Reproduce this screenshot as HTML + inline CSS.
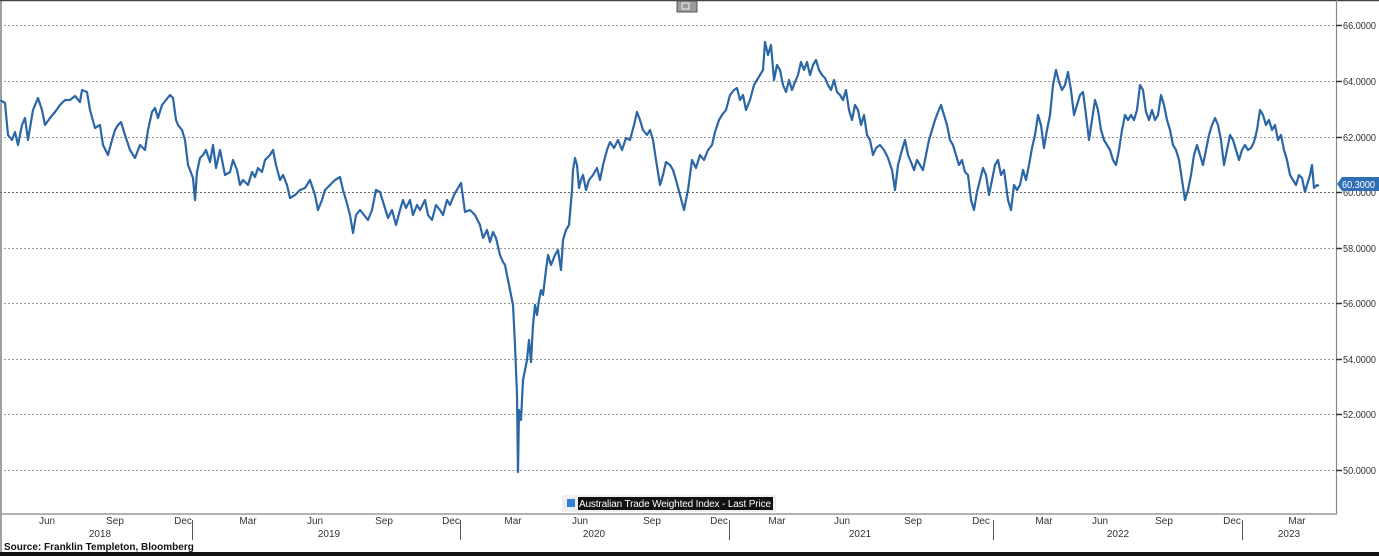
<!DOCTYPE html>
<html><head><meta charset="utf-8"><style>
body{margin:0;width:1379px;height:556px;background:#fff;overflow:hidden;font-family:"Liberation Sans",sans-serif;}
</style></head><body>
<svg width="1379" height="556" xmlns="http://www.w3.org/2000/svg" style="position:absolute;left:0;top:0">
<rect x="0" y="0" width="1379" height="556" fill="#fff"/>
<line x1="0" y1="0.5" x2="1379" y2="0.5" stroke="#444" stroke-width="1.5"/>
<line x1="1" y1="0" x2="1" y2="552" stroke="#444" stroke-width="1"/>
<rect x="677" y="1" width="20" height="11" fill="#9a9a9a" stroke="#555" stroke-width="1"/>
<rect x="682" y="3" width="7" height="6" fill="none" stroke="#eee" stroke-width="1"/>
<g stroke="#999" stroke-dasharray="2,2" stroke-width="1">
<line x1="0" y1="25.5" x2="1336" y2="25.5"/><line x1="0" y1="81.5" x2="1336" y2="81.5"/>
<line x1="0" y1="137.5" x2="1336" y2="137.5"/><line x1="0" y1="192.5" x2="1336" y2="192.5" stroke="#666"/>
<line x1="0" y1="248.5" x2="1336" y2="248.5"/><line x1="0" y1="303.5" x2="1336" y2="303.5"/>
<line x1="0" y1="359.5" x2="1336" y2="359.5"/><line x1="0" y1="414.5" x2="1336" y2="414.5"/>
<line x1="0" y1="470.5" x2="1336" y2="470.5"/>
</g>
<line x1="1336.5" y1="0" x2="1336.5" y2="514" stroke="#888" stroke-width="1.2"/>
<line x1="0" y1="514" x2="1337" y2="514" stroke="#999" stroke-width="1.5"/>
<g font-size="10" fill="#333">
<text x="1343" y="29" textLength="33" lengthAdjust="spacingAndGlyphs">66.0000</text><text x="1343" y="85" textLength="33" lengthAdjust="spacingAndGlyphs">64.0000</text><text x="1343" y="141" textLength="33" lengthAdjust="spacingAndGlyphs">62.0000</text>
<text x="1343" y="252" textLength="33" lengthAdjust="spacingAndGlyphs">58.0000</text><text x="1343" y="307" textLength="33" lengthAdjust="spacingAndGlyphs">56.0000</text><text x="1343" y="363" textLength="33" lengthAdjust="spacingAndGlyphs">54.0000</text>
<text x="1343" y="418" textLength="33" lengthAdjust="spacingAndGlyphs">52.0000</text><text x="1343" y="474" textLength="33" lengthAdjust="spacingAndGlyphs">50.0000</text>
<text x="1343" y="196" textLength="33" lengthAdjust="spacingAndGlyphs">60.0000</text>
</g>
<g stroke="#333" stroke-width="1.5">
<line x1="1336" y1="25.5" x2="1342" y2="25.5"/><line x1="1336" y1="81.5" x2="1342" y2="81.5"/>
<line x1="1336" y1="137.5" x2="1342" y2="137.5"/><line x1="1336" y1="192.5" x2="1342" y2="192.5"/>
<line x1="1336" y1="248.5" x2="1342" y2="248.5"/><line x1="1336" y1="303.5" x2="1342" y2="303.5"/>
<line x1="1336" y1="359.5" x2="1342" y2="359.5"/><line x1="1336" y1="414.5" x2="1342" y2="414.5"/>
<line x1="1336" y1="470.5" x2="1342" y2="470.5"/>
</g>
<polygon points="1337,184 1342,177 1379,177 1379,191 1342,191" fill="#2e6fb5"/>
<text x="1342" y="188" font-size="10" fill="#fff" textLength="33" lengthAdjust="spacingAndGlyphs">60.3000</text>
<polyline fill="none" stroke="#2b66a6" stroke-width="2.2" stroke-linejoin="round" points="0,100 5,103 8,135 12,140 15,132 18,145 22,125 25,118 28,140 33,110 38,98 42,110 45,125 50,118 55,112 60,105 65,100 70,100 75,96 80,102 82,90 87,92 90,110 95,128 100,125 103,145 108,155 112,140 115,130 118,125 121,122 125,135 130,150 135,158 140,145 145,150 148,130 152,112 155,108 158,118 162,105 166,100 170,95 173,98 176,120 178,125 182,130 185,140 188,165 190,170 193,178 195,200 197,172 200,158 203,155 206,150 210,162 213,145 216,168 220,150 225,175 230,172 233,160 237,170 240,185 243,180 248,185 252,172 255,177 258,168 262,172 265,160 270,155 273,150 276,165 280,180 283,175 287,185 290,198 295,195 300,190 305,188 310,180 315,195 318,210 322,200 325,190 330,185 335,180 340,177 343,190 346,200 350,215 353,233 356,215 360,210 364,215 368,220 372,210 376,190 380,192 384,205 388,218 392,210 396,225 400,210 403,200 406,208 410,200 413,215 417,205 420,210 425,200 428,215 432,220 436,205 440,210 443,215 447,200 450,205 454,195 458,188 461,183 465,212 470,210 475,215 480,225 483,238 487,230 490,242 493,232 496,238 500,255 503,262 505,265 508,280 511,295 513,305 515,345 517,395 518,472 519,410 521,420 523,380 525,370 527,360 529,340 531,362 533,325 535,305 537,315 539,300 541,290 543,295 546,270 548,255 551,265 555,255 558,250 561,270 563,240 566,230 569,225 572,190 573,170 575,158 577,165 579,188 581,180 583,175 586,190 589,180 593,175 597,168 600,180 603,165 607,150 610,142 614,148 618,140 622,150 626,138 630,140 634,125 637,112 640,120 643,130 647,135 650,130 653,140 656,160 660,185 663,175 666,162 670,165 673,170 676,180 680,195 684,210 688,190 692,160 696,168 700,155 704,160 708,150 712,145 715,132 719,120 722,115 726,110 730,95 734,90 737,88 740,100 743,95 746,110 750,100 754,85 757,80 760,75 763,70 765,42 768,55 771,45 774,80 777,65 780,70 783,85 786,92 789,80 792,90 795,82 798,75 801,62 804,70 807,62 810,75 813,65 816,60 819,70 822,75 825,78 828,85 831,90 834,80 837,92 840,95 843,100 846,90 849,110 852,120 855,105 858,110 861,125 864,115 867,135 870,140 873,155 876,148 880,145 884,150 888,158 892,170 895,190 898,165 902,150 905,140 908,155 911,162 914,170 917,160 920,165 923,170 926,155 929,140 932,130 935,120 938,112 941,105 944,115 947,125 950,140 953,145 956,155 959,165 962,160 965,172 968,175 971,200 974,210 977,192 980,180 983,168 986,175 989,195 992,180 995,165 998,160 1001,175 1004,170 1008,200 1011,210 1014,185 1017,190 1020,185 1023,170 1026,180 1029,165 1032,148 1035,135 1038,115 1041,125 1044,148 1047,130 1050,115 1053,85 1056,70 1059,82 1062,90 1065,85 1068,72 1071,90 1074,115 1077,105 1080,95 1083,92 1086,115 1089,140 1092,120 1095,100 1098,110 1101,130 1104,140 1107,145 1110,150 1113,160 1116,165 1119,150 1122,130 1125,115 1128,120 1131,115 1134,120 1137,110 1140,85 1143,90 1146,112 1149,120 1152,110 1155,120 1158,115 1161,95 1164,105 1167,120 1170,130 1173,145 1176,150 1179,160 1182,180 1185,200 1188,190 1191,175 1194,155 1197,145 1200,155 1203,165 1206,150 1209,135 1212,125 1215,118 1218,125 1221,140 1224,165 1227,150 1230,135 1233,140 1236,150 1239,160 1242,150 1245,145 1248,150 1251,148 1254,142 1257,130 1260,110 1263,115 1266,125 1269,120 1272,130 1275,125 1278,140 1281,135 1284,150 1287,160 1290,175 1293,180 1296,185 1299,175 1302,178 1305,192 1307,185 1310,175 1312,165 1314,188 1317,185 1319,186"/>
<rect x="562" y="495" width="214" height="17" fill="#eee"/>
<rect x="567" y="499" width="8" height="8" fill="#2e7fd6"/>
<rect x="578" y="497" width="195" height="13" fill="#111"/>
<text x="579" y="507" font-size="10" fill="#fff" textLength="192">Australian Trade Weighted Index - Last Price</text>
<g stroke="#555" stroke-width="1">
<line x1="192.5" y1="520" x2="192.5" y2="540"/><line x1="460.5" y1="520" x2="460.5" y2="540"/>
<line x1="729.5" y1="520" x2="729.5" y2="540"/><line x1="993.5" y1="520" x2="993.5" y2="540"/>
<line x1="1242.5" y1="520" x2="1242.5" y2="540"/>
</g>
<g font-size="10" fill="#333" text-anchor="middle">
<text x="47" y="524">Jun</text><text x="115" y="524">Sep</text><text x="183" y="524">Dec</text>
<text x="248" y="524">Mar</text><text x="315" y="524">Jun</text><text x="384" y="524">Sep</text>
<text x="451" y="524">Dec</text><text x="513" y="524">Mar</text><text x="580" y="524">Jun</text>
<text x="652" y="524">Sep</text><text x="719" y="524">Dec</text><text x="777" y="524">Mar</text>
<text x="842" y="524">Jun</text><text x="913" y="524">Sep</text><text x="981" y="524">Dec</text>
<text x="1044" y="524">Mar</text><text x="1100" y="524">Jun</text><text x="1164" y="524">Sep</text>
<text x="1232" y="524">Dec</text><text x="1297" y="524">Mar</text>
<text x="100" y="537">2018</text><text x="329" y="537">2019</text><text x="594" y="537">2020</text>
<text x="860" y="537">2021</text><text x="1118" y="537">2022</text><text x="1289" y="537">2023</text>
</g>
<text x="4" y="550" font-size="10" font-weight="bold" fill="#111">Source: Franklin Templeton, Bloomberg</text>
<rect x="0" y="552" width="1379" height="4" fill="#111"/>
</svg>
</body></html>
